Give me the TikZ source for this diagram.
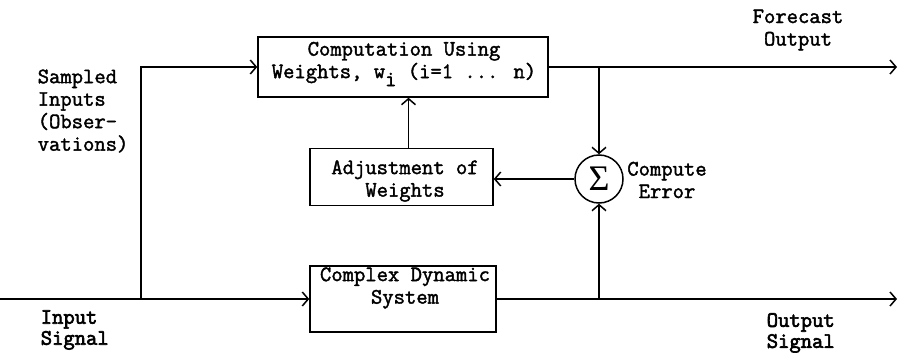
\documentclass[tikz,border=0pt]{standalone}
\usepackage{fontspec}
\newfontfamily\tw{lmmono12-regular.otf}[FakeBold=1.8]
\newfontfamily\twb{lmmono12-regular.otf}[FakeBold=3]
\newfontfamily\sigf{Liberation Serif}
\usetikzlibrary{arrows.meta}
\begin{document}
\begin{tikzpicture}[x=1pt,y=-1pt,line width=1.5pt,
  box/.style={draw,rectangle,inner sep=0pt},
  txt/.style={inner sep=0pt,align=center,font=\tw\fontsize{22}{22.5}\selectfont},
  ltxt/.style={inner sep=0pt,align=left,font=\tw\fontsize{22}{22.5}\selectfont},
  btxt/.style={inner sep=0pt,align=left,font=\twb\fontsize{22}{21}\selectfont},
  arr/.style={-{Straight Barb[length=6pt,width=14pt]}}]
\useasboundingbox (0,0) rectangle (902,353);

% boxes
\node[box,minimum width=290pt,minimum height=60pt] (comp) at (403,67) {};
\node[box,minimum width=183pt,minimum height=57pt] (adj) at (401.5,177) {};
\node[box,minimum width=186pt,minimum height=66pt] (cds) at (403,299) {};
\node[draw,circle,minimum size=48pt,inner sep=0pt] (sum) at (599,179) {\sigf\fontsize{36}{36}\selectfont Σ};

% box texts
\node[txt] (compt) at (404,64) {Computation Using\\Weights, w\raisebox{-8pt}{i} (i=1 ... n)};
\node[txt] (adjt) at (405,181) {Adjustment of\\Weights};
\node[txt] (cdst) at (405,288) {Complex Dynamic\\System};

% labels
\node[ltxt,anchor=west] (samp) at (37,111) {Sampled\\Inputs\\(Obser-\\vations)};
\node[txt] (fore) at (798,30) {Forecast\\Output};
\node[txt] (cerr) at (667,180) {Compute\\Error};
\node[btxt,anchor=west] (insig) at (40,330) {Input\\Signal};
\node[btxt,anchor=west] (outsig) at (766,333) {Output\\Signal};

% coordinates
\coordinate (in0) at (0,299);
\coordinate (j1) at (141,299);
\coordinate (j2) at (599,67);
\coordinate (j3) at (599,299);
\coordinate (fo) at (897,67);
\coordinate (so) at (897,299);

% connectors
\draw[arr] (in0) -- (cds.west);
\draw[arr] (j1) |- (comp.west);
\draw[arr] ([xshift=7pt]adj.north) -- ([xshift=7pt]adj.north |- comp.south);
\draw[arr] (comp.east) -- (fo);
\draw[arr] (j2) -- (sum.north);
\draw[arr] (sum.west) -- (sum.west -| adj.east);
\draw[arr] (cds.east) -- (so);
\draw[arr] (j3) -- (sum.south);
\end{tikzpicture}
\end{document}
